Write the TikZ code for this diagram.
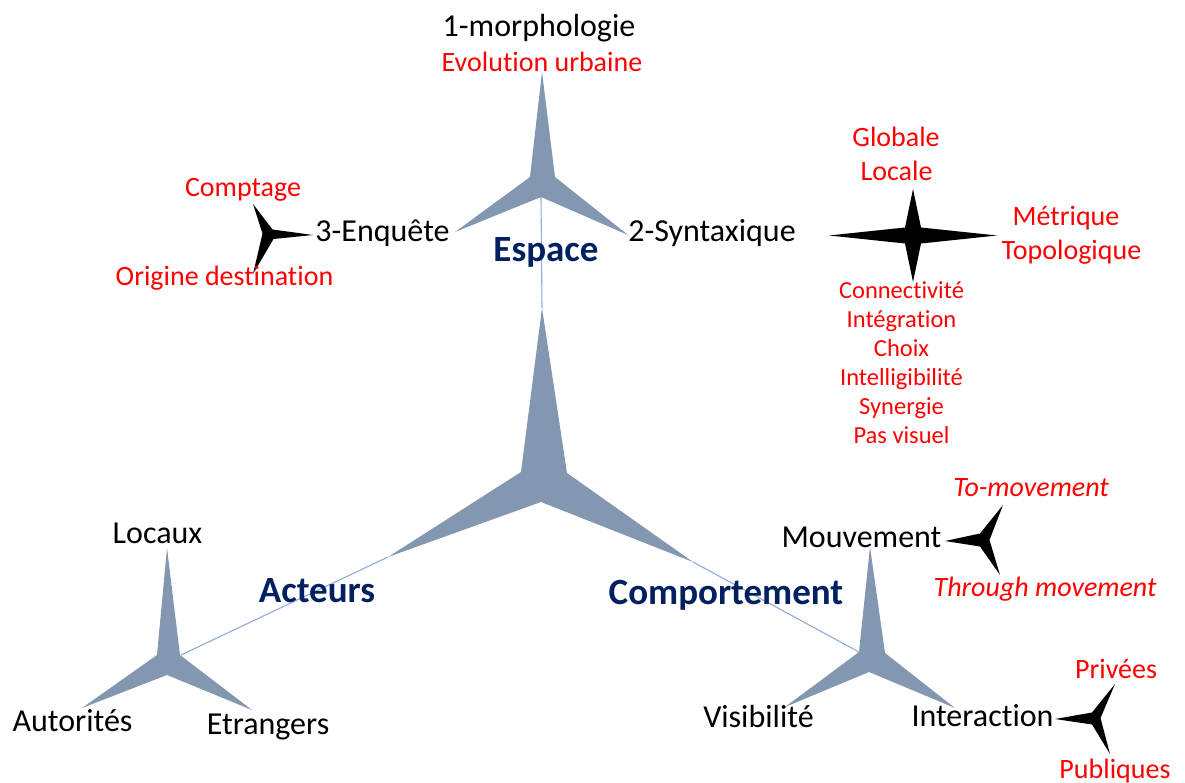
\documentclass[tikz,border=0pt]{standalone}
\usepackage{fontspec}
\setmainfont{Carlito}[Ligatures={NoCommon,NoRare,NoDiscretionary}]
\definecolor{slate}{HTML}{8497B0}
\definecolor{navy}{HTML}{002060}
\definecolor{linkblue}{HTML}{8FAADC}
\definecolor{redtxt}{HTML}{FF0000}
\tikzset{
  lbl/.style={anchor=base, inner sep=0pt, text=black, font=\fontsize{32}{38}\selectfont},
  sub/.style={anchor=base, inner sep=0pt, text=redtxt, font=\fontsize{28}{34}\selectfont},
  subsmall/.style={anchor=base, inner sep=0pt, text=redtxt, font=\fontsize{24.5}{29}\selectfont},
  subit/.style={anchor=base, inner sep=0pt, text=redtxt, font=\fontsize{28}{34}\selectfont\itshape},
  head/.style={anchor=base, inner sep=0pt, text=navy, font=\fontsize{37}{44}\selectfont\bfseries},
  graystar/.style={fill=slate, draw=none},
  blackstar/.style={fill=black, draw=none},
  link/.style={draw=linkblue, line width=1.1pt},
}
\begin{document}
\begin{tikzpicture}[x=1pt, y=-1pt]
\useasboundingbox (0,0) rectangle (1185,783);

% connection points of the three-armed stars
\coordinate (espBottom) at (541,197);
\coordinate (hubTop) at (542,308);
\coordinate (hubLeft) at (388,557);
\coordinate (hubRight) at (693,562);
\coordinate (actInner) at (181,655);
\coordinate (compInner) at (859,652);

% thin links between the stars
\draw[link] (espBottom) -- (hubTop);
\draw[link] (hubLeft) -- (actInner);
\draw[link] (hubRight) -- (compInner);

% grey three-armed stars
\fill[graystar] (542,72) -- (555,177) -- (628,235) -- (espBottom) -- (455,232) -- (530,177) -- cycle;
\fill[graystar] (hubTop) -- (567,473) -- (hubRight) -- (541,502) -- (hubLeft) -- (521,472) -- cycle;
\fill[graystar] (167,548) -- (180,655) -- (252,710) -- (167,675) -- (82,708) -- (157,655) -- cycle;
\fill[graystar] (870,547) -- (885,653) -- (955,708) -- (869,672) -- (785,707) -- (compInner) -- cycle;

% black four-pointed star (syntax measures)
\fill[blackstar] (913,189) -- (921,227.5) -- (997,235.5) -- (921,243.5) -- (913,282) -- (905,243.5) -- (829,235.5) -- (905,227.5) -- cycle;
% black three-pointed stars
\fill[blackstar] (253,204) -- (272.5,229.5) -- (313,235) -- (273.5,239) -- (253,274) -- (262.5,233.5) -- cycle;
\fill[blackstar] (945,541) -- (980,533.5) -- (1003,505) -- (989.5,540) -- (1000,575) -- (980,546.5) -- cycle;
\fill[blackstar] (1055,719) -- (1092,712.5) -- (1115,684) -- (1100.5,718) -- (1110,754) -- (1092,724.5) -- cycle;

% headings
\node[head] (espace) at (546,262) {Espace};
\node[head] (acteurs) at (317,602) {Acteurs};
\node[head] (comport) at (726,604) {Comportement};

% Espace branch
\node[lbl] (morpho) at (539,37) {1-morphologie};
\node[sub] (evol) at (542,71.5) {Evolution urbaine};
\node[lbl] (syntax) at (712,242) {2-Syntaxique};
\node[lbl] (enquete) at (382.5,242) {3-Enquête};
\node[sub] (comptage) at (243,197) {Comptage};
\node[sub] (origine) at (224.5,286) {Origine destination};
\node[sub] (globale) at (896,146.5) {Globale};
\node[sub] (locale) at (896.5,180.5) {Locale};
\node[sub] (metrique) at (1066,226) {Métrique};
\node[sub] (topo) at (1071.5,260) {Topologique};
\node[subsmall] (connect) at (901.5,298.5) {Connectivité};
\node[subsmall] (integr) at (901.5,327.5) {Intégration};
\node[subsmall] (choix) at (901.5,356.5) {Choix};
\node[subsmall] (intell) at (901.5,385.5) {Intelligibilité};
\node[subsmall] (synerg) at (901.5,414.5) {Synergie};
\node[subsmall] (pasvis) at (901.5,443.5) {Pas visuel};

% Acteurs branch
\node[lbl] (locaux) at (157.5,543) {Locaux};
\node[lbl] (autor) at (72.5,731.5) {Autorités};
\node[lbl] (etrang) at (268,734) {Etrangers};

% Comportement branch
\node[lbl] (mouv) at (861.5,547) {Mouvement};
\node[subit] (tomov) at (1031,496) {To-movement};
\node[subit] (through) at (1045,596.5) {Through movement};
\node[lbl] (visib) at (758.5,727) {Visibilité};
\node[lbl] (interact) at (982.5,726.5) {Interaction};
\node[sub] (privees) at (1116,678) {Privées};
\node[sub] (publiq) at (1115,778) {Publiques};
\end{tikzpicture}
\end{document}
